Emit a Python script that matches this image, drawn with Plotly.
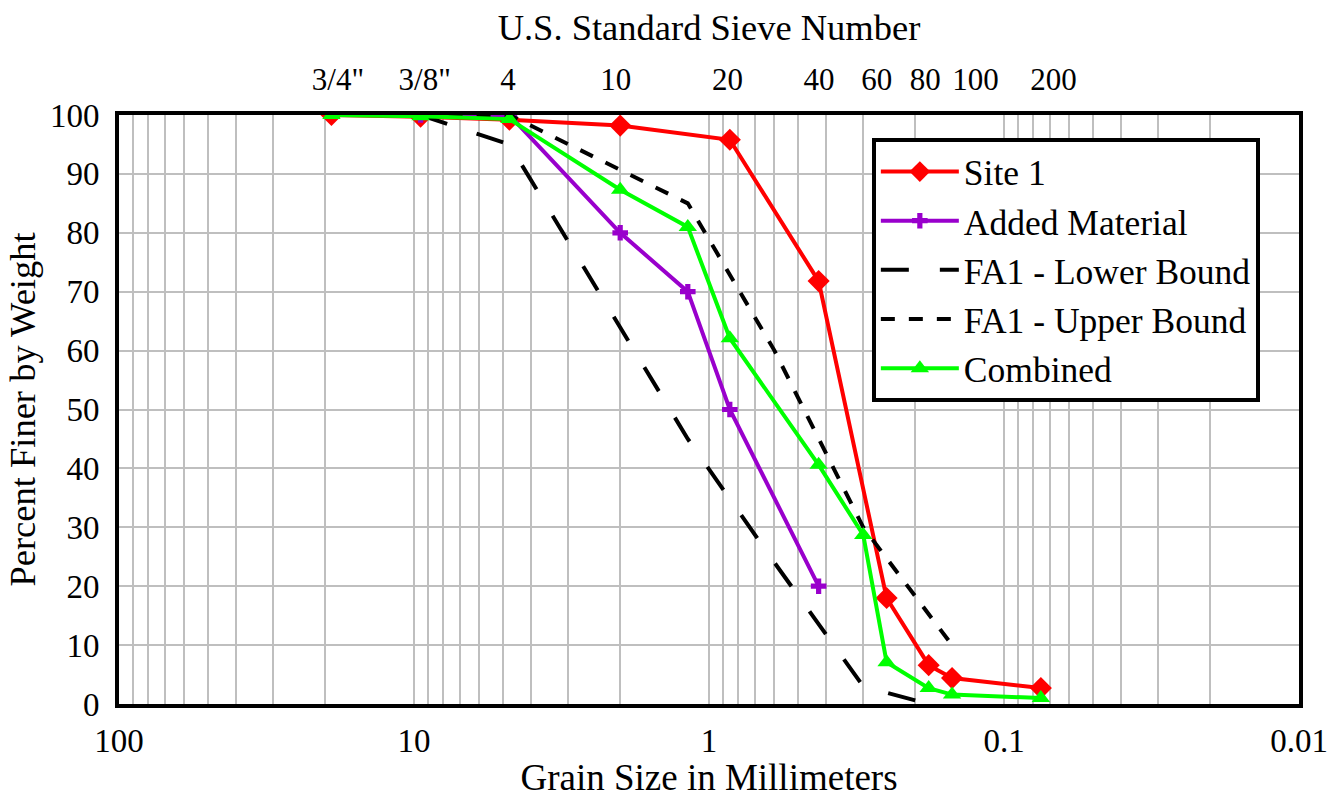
import plotly.graph_objects as go

# ---- data ----
site1_size = [19.05, 9.5, 4.75, 2.0, 0.85, 0.425, 0.25, 0.18, 0.15, 0.075]
site1_pct = [100, 99.7, 99.2, 98.2, 95.8, 71.8, 18.0, 6.6, 4.4, 2.7]

added_size = [9.5, 4.75, 2.0, 1.18, 0.85, 0.425]
added_pct = [100, 100, 80, 70, 50, 20]

lower_size = [9.5, 4.75, 1.18, 0.6, 0.3, 0.18]
lower_pct = [100, 95, 45, 24, 3, 0]

upper_size = [9.5, 4.75, 1.18, 0.6, 0.3, 0.15]
upper_pct = [100, 100, 85, 60, 30, 10]

combined_size = [19.05, 9.5, 4.75, 2.0, 1.18, 0.85, 0.425, 0.3, 0.25, 0.18, 0.15, 0.075]
combined_pct = [100, 99.8, 99.3, 87.3, 81.0, 62.1, 40.6, 28.7, 7.1, 2.7, 1.6, 1.0]

sieve_labels = ['3/4"', '3/8"', '4', '10', '20', '40', '60', '80', '100', '200']
sieve_label_pos_mm = [18.1, 9.2, 4.8, 2.07, 0.865, 0.424, 0.27, 0.185, 0.125, 0.068]

x_major = [100, 10, 1, 0.1, 0.01]
x_major_text = ["100", "10", "1", "0.1", "0.01"]
y_ticks = list(range(0, 101, 10))

# grid positions (1..9 x each decade)
x_grid = []
x_grid_text = []
for e in range(-2, 2):
    for m in range(1, 10):
        v = round(m * 10 ** e, 6)
        x_grid.append(v)
        x_grid_text.append(x_major_text[x_major.index(v)] if v in x_major else "")
x_grid.append(100)
x_grid_text.append("100")

FONT = "Liberation Serif"
GRID = "#BFBFBF"

fig = go.Figure()

fig.add_trace(go.Scatter(
    x=site1_size, y=site1_pct, name="Site 1", mode="lines+markers",
    line=dict(color="#FF0000", width=4),
    marker=dict(symbol="diamond", size=17, color="#FF0000"),
    legendrank=1))
fig.add_trace(go.Scatter(
    x=added_size, y=added_pct, name="Added Material", mode="lines+markers",
    line=dict(color="#9900CC", width=4),
    marker=dict(symbol="cross", size=13, color="#9900CC"),
    legendrank=2))
fig.add_trace(go.Scatter(
    x=lower_size, y=lower_pct, name="FA1 - Lower Bound", mode="lines",
    line=dict(color="black", width=4, dash="28px,31px"),
    legendrank=3))
fig.add_trace(go.Scatter(
    x=upper_size, y=upper_pct, name="FA1 - Upper Bound", mode="lines",
    line=dict(color="black", width=4, dash="14px,14px"),
    legendrank=4))
fig.add_trace(go.Scatter(
    x=combined_size, y=combined_pct, name="Combined", mode="lines+markers",
    line=dict(color="#00FF00", width=4),
    marker=dict(symbol="triangle-up", size=16, color="#00FF00"),
    legendrank=5))

# carrier trace for the top (sieve number) axis
fig.add_trace(go.Scatter(
    x=sieve_label_pos_mm, y=[None] * len(sieve_label_pos_mm), xaxis="x2",
    mode="markers", showlegend=False, hoverinfo="skip"))

fig.update_layout(
    width=1336, height=798,
    margin=dict(l=119, r=37, t=115, b=94, autoexpand=False),
    paper_bgcolor="white", plot_bgcolor="white",
    font=dict(family=FONT, size=33, color="black"),
    legend=dict(
        x=0.638, y=0.961, xanchor="left", yanchor="top",
        bgcolor="white", bordercolor="black", borderwidth=4,
        font=dict(family=FONT, size=35.5), tracegroupgap=0,
        itemwidth=78,
    ),
    xaxis=dict(
        type="log", range=[2, -2],
        tickmode="array", tickvals=x_grid, ticktext=x_grid_text,
        showgrid=True, gridcolor=GRID, gridwidth=1.5,
        showline=True, linecolor="black", linewidth=4, mirror=True,
        ticks="", zeroline=False, ticklabelstandoff=4,
        tickfont=dict(size=33),
        title=dict(text="Grain Size in Millimeters", font=dict(size=37), standoff=4),
    ),
    xaxis2=dict(
        type="log", range=[2, -2], overlaying="x", side="top",
        tickmode="array", tickvals=sieve_label_pos_mm, ticktext=sieve_labels,
        showgrid=False, showline=False, ticks="", zeroline=False,
        ticklabelstandoff=18, tickfont=dict(size=31),
        title=dict(text="U.S. Standard Sieve Number", font=dict(size=36.5), standoff=10),
    ),
    yaxis=dict(
        range=[0, 100], tickmode="array", tickvals=y_ticks,
        showgrid=True, gridcolor=GRID, gridwidth=1.5,
        showline=True, linecolor="black", linewidth=4, mirror=True,
        ticks="", zeroline=False, ticklabelstandoff=9,
        tickfont=dict(size=33),
        title=dict(text="Percent Finer by Weight", font=dict(size=36.5), standoff=4),
    ),
)

fig.write_html("out.html")
